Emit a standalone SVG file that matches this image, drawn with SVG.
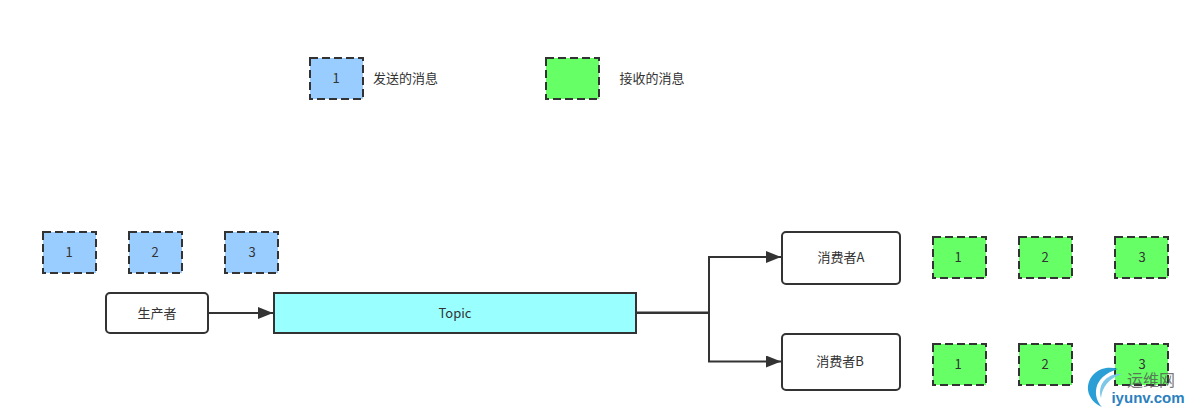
<svg xmlns="http://www.w3.org/2000/svg" width="1191" height="413" viewBox="0 0 1191 413">
<style>
text{font-family:"Noto Sans CJK SC","Liberation Sans",sans-serif;font-size:13px;fill:#333;text-anchor:middle}
.s{stroke:#333;stroke-width:2;stroke-dasharray:8 4}
.b{fill:#99ccff}.g{fill:#66ff66}
.n{fill:#fff;stroke:#333;stroke-width:2}
.c{fill:none;stroke:#333;stroke-width:2}
</style>
<defs><marker id="a" markerUnits="userSpaceOnUse" markerWidth="16" markerHeight="12" refX="15" refY="6" orient="auto"><path d="M0 0L15 6L0 12z" fill="#333"/></marker></defs>
<rect width="1191" height="413" fill="#fff"/>
<g id="connectors">
<path class="c" d="M208 313H273" marker-end="url(#a)"/>
<path class="c" d="M636 312.500H709V257H781" marker-end="url(#a)"/>
<path class="c" d="M636 313H709V361.500H781" marker-end="url(#a)"/>
</g>
<g id="legend-send"><rect class="s b" x="310" y="58" width="53" height="41"/><text x="336" y="83">1</text></g>
<g id="legend-send-label"><text x="405.500" y="83">发送的消息</text></g>
<g id="legend-recv"><rect class="s g" x="546" y="58" width="53" height="41"/></g>
<g id="legend-recv-label"><text x="652" y="83">接收的消息</text></g>
<g id="m1"><rect class="s b" x="43" y="232" width="53" height="41"/><text x="69" y="257">1</text></g>
<g id="m2"><rect class="s b" x="129" y="232" width="53" height="41"/><text x="155" y="257">2</text></g>
<g id="m3"><rect class="s b" x="225" y="232" width="53" height="41"/><text x="252" y="257">3</text></g>
<g id="producer"><rect class="n" x="106" y="293" width="102" height="40" rx="4"/><text x="157" y="318">生产者</text></g>
<g id="topic"><rect x="274" y="293" width="362" height="40" fill="#99ffff" stroke="#333" stroke-width="2"/><text x="455" y="318">Topic</text></g>
<g id="consumerA"><rect class="n" x="782" y="232" width="118" height="52" rx="4"/><text x="841" y="262">消费者A</text></g>
<g id="consumerB"><rect class="n" x="782" y="334" width="118" height="56" rx="4"/><text x="840" y="366">消费者B</text></g>
<g id="a1"><rect class="s g" x="933" y="237" width="53" height="41"/><text x="958" y="262">1</text></g>
<g id="a2"><rect class="s g" x="1019" y="237" width="53" height="41"/><text x="1045" y="262">2</text></g>
<g id="a3"><rect class="s g" x="1115" y="237" width="53" height="41"/><text x="1142" y="262">3</text></g>
<g id="b1"><rect class="s g" x="933" y="344" width="53" height="41"/><text x="958" y="369">1</text></g>
<g id="b2"><rect class="s g" x="1019" y="344" width="53" height="41"/><text x="1045" y="369">2</text></g>
<g id="b3"><rect class="s g" x="1115" y="344" width="53" height="41"/><text x="1142" y="369">3</text></g>
<g id="watermark">
<path d="M1118 369C1100 364 1087 376 1088 390C1089 398 1095 404 1102 407C1093 398 1091 377 1118 369Z" fill="#2a9fd6"/>
<path d="M1122 374C1107 373 1097 384 1101 398C1102 387 1109 378 1122 374Z" fill="#7cc8e8"/>
<text x="1151" y="386" style="font-size:16px;fill:#555;fill-opacity:.8">运维网</text>
<text x="1148" y="403" style="font-family:'Liberation Sans',sans-serif;font-size:15px;font-weight:bold;fill:#2a80c0">iyunv.com</text>
</g>
</svg>
